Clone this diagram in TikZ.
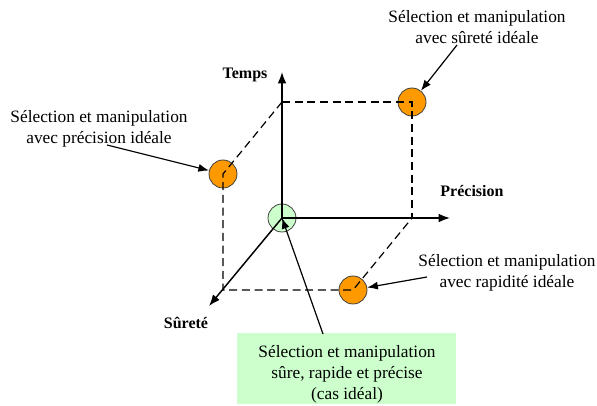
\documentclass[tikz,border=0pt]{standalone}
\usepackage{fontspec}
\setmainfont{Liberation Serif}
\usetikzlibrary{arrows.meta}
\definecolor{orb}{HTML}{FF9900}
\definecolor{pale}{HTML}{CCFFCC}
\begin{document}
\begin{tikzpicture}[x=0.75pt,y=-0.75pt,
  ax/.style={line width=1.1pt, -{Latex[length=8.5pt,width=6.5pt]}},
  dsh/.style={line width=0.9pt, dash pattern=on 6pt off 3.5pt},
  ptr/.style={line width=0.9pt, -{Latex[length=8pt,width=6pt]}},
  ball/.style={circle, minimum size=21pt, inner sep=0pt, draw=black!75, line width=0.6pt, fill=orb},
  lbl/.style={align=center, font=\fontsize{13}{15.75}\selectfont, inner sep=0pt},
  axl/.style={font=\fontsize{12}{14}\selectfont\bfseries, inner sep=0pt}]
\useasboundingbox (0,0) rectangle (597,406);
% points
\coordinate (O) at (282,218);
\coordinate (T) at (282,102);
\coordinate (P) at (412,218);
\coordinate (S) at (223,290);
\coordinate (TS) at (223,174);
\coordinate (TP) at (412,102);
\coordinate (PS) at (353,290);
\coordinate (Tend) at (282,72);
\coordinate (Pend) at (450,218);
\coordinate (Send) at (209,306);
% circles
\node[ball] (cTS) at (TS) {};
\node[ball] (cTP) at (TP) {};
\node[ball] (cPS) at (PS) {};
\node[ball, fill=pale] (cO) at (O) {};
% dashed box
\draw[dsh] (T) -- (TP) -- (P);
\draw[dsh] (T) -- (TS) -- (S) -- (PS) -- (P);
% axes
\draw[ax] (O) -- (Tend);
\draw[ax] (O) -- (Pend);
\draw[ax] (O) -- (Send);
% axis labels
\node[axl] (lT) at (245,75) {Temps};
\node[axl] (lP) at (472,191) {Précision};
\node[axl] (lS) at (186,323) {Sûreté};
% callout labels
\node[lbl] (l1) at (477,27) {Sélection et manipulation\\avec sûreté idéale};
\node[lbl] (l2) at (99,129) {Sélection et manipulation\\avec précision idéale};
\node[lbl] (l3) at (507,273) {Sélection et manipulation\\avec rapidité idéale};
\node[fill=pale, minimum width=164pt, minimum height=53pt, inner sep=0pt] (gb) at (346.5,368.5) {};
\node[lbl] (l4) at (347,374) {Sélection et manipulation\\sûre, rapide et précise\\(cas idéal)};
% pointers
\coordinate (a1) at (457,45);
\coordinate (a2) at (107,145);
\coordinate (a3) at (427,277);
\coordinate (a4) at (323,334);
\draw[ptr] (a1) -- (cTP);
\draw[ptr] (a2) -- (cTS);
\draw[ptr] (a3) -- (cPS);
\draw[ptr] (a4) -- (cO.center);
\end{tikzpicture}
\end{document}
